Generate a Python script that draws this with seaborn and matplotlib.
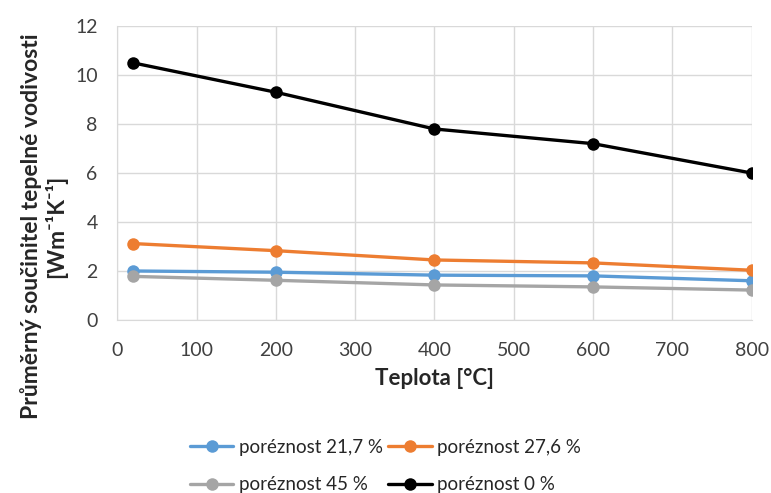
import pandas as pd
import matplotlib
matplotlib.use('Agg')
import matplotlib.pyplot as plt
import seaborn as sns

# Data
teplota = [20, 200, 400, 600, 800]
por_21_7 = [2.0, 1.95, 1.83, 1.8, 1.6]
por_27_6 = [3.12, 2.83, 2.45, 2.33, 2.03]
por_45 = [1.78, 1.62, 1.43, 1.35, 1.22]
por_0 = [10.5, 9.3, 7.8, 7.2, 6.0]

series_names = ['poréznost 21,7 %', 'poréznost 27,6 %', 'poréznost 45 %', 'poréznost 0 %']
series_values = [por_21_7, por_27_6, por_45, por_0]
colors = ['#5B9BD5', '#ED7D31', '#A5A5A5', '#000000']

rows = []
for name, vals in zip(series_names, series_values):
    for t, v in zip(teplota, vals):
        rows.append({'Teplota': t, 'value': v, 'series': name})
data = pd.DataFrame(rows)

sns.set_style('white')
plt.rcParams['font.family'] = ['Lato', 'DejaVu Sans']

fig = plt.figure(figsize=(7.71, 4.93), dpi=100)
ax = fig.add_axes([0.152, 0.351, 0.823, 0.596])

sns.lineplot(data=data, x='Teplota', y='value', hue='series', hue_order=series_names,
             palette=colors, marker='o', markersize=9, markeredgewidth=0,
             linewidth=2.4, ax=ax, legend=False)

ax.set_xlim(0, 800)
ax.set_ylim(0, 12)
ax.set_xticks(range(0, 801, 100))
ax.set_yticks(range(0, 13, 2))
ax.grid(True, color='#D9D9D9', linewidth=1)
ax.tick_params(axis='x', length=0, labelsize=14, colors='#404040', pad=16)
ax.tick_params(axis='y', length=0, labelsize=14, colors='#404040', pad=14)
for s in ['top', 'right']:
    ax.spines[s].set_visible(False)
for s in ['left', 'bottom']:
    ax.spines[s].set_color('#D9D9D9')

ax.set_xlabel('Teplota [°C]', fontsize=16, fontweight='bold', labelpad=6)
ax.set_ylabel('Průměrný součinitel tepelné vodivosti\n[Wm⁻¹K⁻¹]', fontsize=16.5,
              fontweight='bold', linespacing=1.1)
ax.yaxis.set_label_coords(-0.079, 0.32)

handles = ax.get_lines()[:4]
order = [0, 2, 1, 3]
fig.legend([handles[i] for i in order], [series_names[i] for i in order],
           ncol=2, loc='lower center', bbox_to_anchor=(0.5, -0.035), frameon=False,
           fontsize=13.5, handlelength=2.3, columnspacing=0.3, handletextpad=0.3,
           labelspacing=1.1)

plt.savefig('out.png', dpi=100)
